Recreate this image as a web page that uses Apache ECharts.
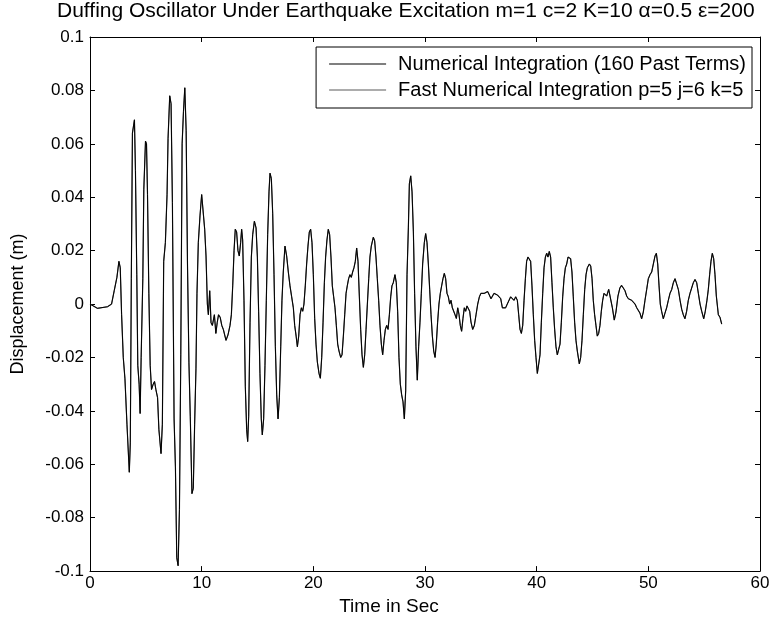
<!DOCTYPE html>
<html>
<head>
<meta charset="utf-8">
<script src="https://cdn.jsdelivr.net/npm/echarts@6/dist/echarts.min.js"></script>
<style>
html,body{margin:0;padding:0;background:#fff;}
#chart{width:773px;height:621px;}
</style>
</head>
<body>
<div id="chart"></div>
<script>
const titleText = 'Duffing Oscillator Under Earthquake Excitation m=1 c=2 K=10 \u03b1=0.5 \u03b5=200';
const seriesNames = ['Numerical Integration (160 Past Terms)', 'Fast Numerical Integration p=5 j=6 k=5'];
const xTicks = [0, 10, 20, 30, 40, 50, 60];
const yTicks = [-0.1, -0.08, -0.06, -0.04, -0.02, 0, 0.02, 0.04, 0.06, 0.08, 0.1];

const timeSec = [
0, 0.66, 1.57, 1.93, 2.17, 2.41, 2.59, 2.71, 2.83, 2.98, 3.13, 3.31, 3.52, 3.61, 3.7, 3.8, 3.98, 4.07, 4.19, 4.28,
4.4, 4.49, 4.58, 4.73, 4.82, 4.97, 5.06, 5.15, 5.27, 5.39, 5.51, 5.66, 5.78, 5.9, 6.05, 6.17, 6.36, 6.48, 6.6, 6.75,
6.9, 6.99, 7.14, 7.26, 7.38, 7.53, 7.65, 7.77, 7.89, 8.01, 8.13, 8.25, 8.37, 8.49, 8.61, 8.73, 8.86, 8.98, 9.13, 9.25,
9.37, 9.49, 9.58, 9.7, 9.85, 10.0, 10.15, 10.27, 10.39, 10.51, 10.6, 10.72, 10.84, 10.96, 11.14, 11.27, 11.39, 11.51, 11.66, 11.8,
11.94, 12.18, 12.36, 12.54, 12.66, 12.78, 12.9, 13.01, 13.13, 13.25, 13.37, 13.49, 13.58, 13.67, 13.79, 13.91, 14.03, 14.12, 14.21, 14.33,
14.45, 14.57, 14.72, 14.87, 14.99, 15.1, 15.22, 15.34, 15.43, 15.55, 15.67, 15.79, 15.91, 16.03, 16.12, 16.24, 16.36, 16.48, 16.6, 16.72,
16.84, 16.96, 17.08, 17.19, 17.31, 17.46, 17.61, 17.76, 17.91, 18.06, 18.21, 18.33, 18.46, 18.57, 18.69, 18.81, 18.93, 19.05, 19.16, 19.28,
19.4, 19.52, 19.64, 19.76, 19.88, 20.0, 20.12, 20.24, 20.36, 20.51, 20.63, 20.75, 20.87, 20.99, 21.1, 21.22, 21.34, 21.46, 21.58, 21.7,
21.82, 21.94, 22.06, 22.18, 22.3, 22.45, 22.57, 22.69, 22.81, 22.93, 23.04, 23.16, 23.28, 23.4, 23.52, 23.64, 23.76, 23.88, 24.0, 24.12,
24.24, 24.36, 24.48, 24.6, 24.72, 24.84, 24.96, 25.07, 25.19, 25.37, 25.49, 25.61, 25.73, 25.85, 25.97, 26.09, 26.21, 26.33, 26.45, 26.57,
26.69, 26.81, 26.93, 27.04, 27.16, 27.31, 27.43, 27.55, 27.67, 27.79, 27.91, 28.03, 28.15, 28.27, 28.39, 28.51, 28.6, 28.72, 28.84, 28.96,
29.07, 29.19, 29.31, 29.43, 29.55, 29.67, 29.79, 29.94, 30.06, 30.18, 30.3, 30.42, 30.54, 30.66, 30.78, 30.9, 31.01, 31.13, 31.25, 31.37,
31.49, 31.61, 31.73, 31.85, 31.97, 32.09, 32.21, 32.33, 32.45, 32.57, 32.69, 32.81, 32.93, 33.05, 33.16, 33.28, 33.4, 33.52, 33.64, 33.76,
33.88, 34.0, 34.12, 34.27, 34.42, 34.57, 34.72, 34.87, 35.01, 35.16, 35.31, 35.46, 35.61, 35.76, 35.91, 36.18, 36.48, 36.78, 36.93, 37.07,
37.22, 37.37, 37.52, 37.67, 37.82, 37.97, 38.12, 38.27, 38.39, 38.51, 38.63, 38.75, 38.87, 38.99, 39.1, 39.22, 39.34, 39.46, 39.58, 39.7,
39.82, 39.94, 40.06, 40.21, 40.3, 40.42, 40.54, 40.66, 40.78, 40.9, 41.01, 41.13, 41.25, 41.37, 41.49, 41.61, 41.73, 41.85, 41.97, 42.09,
42.21, 42.33, 42.45, 42.57, 42.69, 42.81, 42.93, 43.04, 43.16, 43.28, 43.4, 43.52, 43.64, 43.82, 43.94, 44.06, 44.18, 44.3, 44.42, 44.54,
44.72, 44.84, 44.96, 45.07, 45.19, 45.31, 45.43, 45.55, 45.67, 45.79, 45.91, 46.03, 46.15, 46.27, 46.45, 46.6, 46.78, 46.95, 47.1, 47.28,
47.45, 47.6, 47.76, 47.91, 48.06, 48.21, 48.36, 48.51, 48.66, 48.81, 48.96, 49.1, 49.25, 49.4, 49.55, 49.7, 49.85, 50.0, 50.15, 50.3,
50.45, 50.6, 50.72, 50.84, 50.96, 51.07, 51.19, 51.34, 51.49, 51.64, 51.79, 51.94, 52.09, 52.24, 52.39, 52.54, 52.69, 52.84, 52.99, 53.13,
53.28, 53.43, 53.58, 53.73, 53.88, 54.03, 54.18, 54.33, 54.48, 54.63, 54.78, 54.96, 55.1, 55.25, 55.37, 55.49, 55.61, 55.73, 55.85, 55.97,
56.09, 56.27, 56.42, 56.57
];

const numDisp = [
0, -0.0016, -0.001, 0, 0.005, 0.010, 0.016, 0.0136, -0.004, -0.020, -0.028, -0.045, -0.063, -0.052, 0.0095, 0.064, 0.069, 0.050, 0.011, -0.023,
-0.030, -0.041, -0.020, 0.0095, 0.043, 0.061, 0.060, 0.041, 0.004, -0.023, -0.032, -0.030, -0.029, -0.032, -0.035, -0.047, -0.056, -0.045, 0.016, 0.023,
0.041, 0.062, 0.078, 0.075, 0.038, -0.043, -0.061, -0.095, -0.098, -0.077, -0.019, 0.060, 0.072, 0.081, 0.065, 0.015, -0.022, -0.042, -0.071, -0.069,
-0.045, -0.024, 0.004, 0.023, 0.033, 0.041, 0.041, 0.028, 0.018, 0.0, -0.004, 0.005, -0.007, -0.008, -0.004, -0.011, -0.007, -0.004, -0.005, -0.008,
-0.0095, -0.0136, -0.0115, -0.008, -0.004, 0.0068, 0.020, 0.028, 0.027, 0.020, 0.018, 0.023, 0.028, 0.024, 0.0014, -0.031, -0.047, -0.0515, -0.042, -0.007,
0.0176, 0.026, 0.031, 0.0285, 0.0176, -0.0027, -0.026, -0.043, -0.049, -0.043, -0.023, 0.0014, 0.026, 0.042, 0.049, 0.047, 0.034, 0.011, -0.016, -0.034,
-0.043, -0.035, -0.016, 0.0014, 0.012, 0.0217, 0.018, 0.012, 0.0068, 0.0027, -0.0014, -0.008, -0.012, -0.016, -0.012, -0.004, -0.0014, -0.0027, 0, 0.0068,
0.015, 0.0217, 0.027, 0.028, 0.023, 0.011, -0.0054, -0.015, -0.0217, -0.026, -0.0278, -0.020, -0.0068, 0.0081, 0.0176, 0.024, 0.028, 0.026, 0.0176, 0.0068,
0.0027, -0.0014, -0.008, -0.015, -0.0176, -0.020, -0.019, -0.012, -0.004, 0.004, 0.0068, 0.0095, 0.011, 0.010, 0.012, 0.0136, 0.016, 0.021, 0.016, 0.003,
-0.0095, -0.019, -0.0237, -0.019, -0.0095, 0, 0.0095, 0.0176, 0.0217, 0.025, 0.0237, 0.0176, 0.0095, 0.0014, -0.008, -0.015, -0.019, -0.0136, -0.0095, -0.008,
-0.0095, -0.004, 0.0027, 0.0068, 0.008, 0.011, 0.008, -0.0027, -0.020, -0.030, -0.034, -0.0366, -0.043, -0.0325, 0.011, 0.0285, 0.045, 0.048, 0.042, 0.027,
0.004, -0.016, -0.0285, -0.016, -0.0068, 0.004, 0.015, 0.023, 0.0264, 0.023, 0.015, 0.0054, -0.004, -0.012, -0.0176, -0.020, -0.015, -0.0068, 0, 0.004,
0.0068, 0.0095, 0.0115, 0.0095, 0.004, 0.0027, 0, 0.0014, -0.0014, -0.0007, -0.004, -0.0054, -0.0014, -0.004, -0.008, -0.0102, -0.0054, -0.0014, -0.0027, -0.0007,
0, -0.0027, -0.0068, -0.0095, -0.008, -0.004, 0, 0.0027, 0.004, 0.0047, 0.004, 0.004, 0.0047, 0.0034, 0.002, 0.004, 0.0034, 0.002, -0.0014, -0.002,
-0.0014, 0, 0, 0.0027, 0.0027, 0.0014, 0.0027, 0.0014, -0.004, -0.0095, -0.011, -0.008, 0.0014, 0.0095, 0.016, 0.0176, 0.018, 0.016, 0.0068, -0.004,
-0.0136, -0.020, -0.026, -0.026, -0.019, -0.0068, 0.004, 0.0136, 0.0176, 0.019, 0.0176, 0.0197, 0.0176, 0.008, -0.0014, -0.0095, -0.016, -0.019, -0.019, -0.015,
-0.0068, 0.0027, 0.0095, 0.0136, 0.015, 0.0176, 0.018, 0.017, 0.012, 0.0027, -0.0068, -0.0136, -0.0176, -0.0224, -0.020, -0.0136, -0.004, 0.0054, 0.011, 0.0136,
0.015, 0.0142, 0.0095, 0.0014, -0.004, -0.008, -0.012, -0.011, -0.008, -0.0027, 0.0014, 0.004, 0.004, 0.003, 0.0055, 0.005, -0.0014, -0.006, -0.003, 0.003,
0.006, 0.007, 0.006, 0.005, 0.003, 0.002, 0.0014, 0.0014, 0.0007, 0, -0.0014, -0.002, -0.0034, -0.0055, -0.003, 0.0014, 0.0054, 0.0095, 0.011, 0.012,
0.015, 0.018, 0.019, 0.015, 0.0068, 0, -0.0027, -0.0055, -0.0034, -0.0014, 0.0014, 0.004, 0.0054, 0.008, 0.0095, 0.0088, 0.0054, 0.0014, -0.002, -0.004,
-0.0055, -0.0027, 0.0014, 0.004, 0.006, 0.008, 0.0092, 0.008, 0.004, 0, -0.0027, -0.0055, -0.0027, 0.0014, 0.0054, 0.011, 0.016, 0.019, 0.017, 0.011,
0.003, -0.004, -0.005, -0.0075
];

// The fast method is visually indistinguishable from the reference integration in the picture
const fastDisp = numDisp.slice();

const toPairs = (xs, ys) => xs.map((x, i) => [x, ys[i]]);

const chart = echarts.init(document.getElementById('chart'), null, {renderer: 'canvas'});
const FONT = 'Liberation Sans, Arial, Helvetica, sans-serif';
const axisCommon = {
  axisLine: {show: true, onZero: false, lineStyle: {color: '#000', width: 1}},
  axisTick: {show: true, inside: true, length: 5, lineStyle: {color: '#000', width: 1}},
  splitLine: {show: false}
};

chart.setOption({
  animation: false,
  backgroundColor: '#fff',
  title: {
    text: titleText,
    left: 57,
    top: 1,
    padding: 0,
    textStyle: {fontFamily: FONT, fontSize: 21, fontWeight: 'normal', color: '#000'}
  },
  legend: {
    data: seriesNames,
    orient: 'vertical',
    right: 21,
    top: 47,
    backgroundColor: '#fff',
    borderColor: '#000',
    borderWidth: 1,
    padding: [7, 6, 8, 13],
    itemGap: 6,
    itemWidth: 57,
    itemHeight: 1,
    icon: 'rect',
    textStyle: {fontFamily: FONT, fontSize: 20, color: '#000', padding: [0, 0, 0, 7]}
  },
  grid: {left: 90, right: 13, top: 37, bottom: 31, containLabel: false},
  xAxis: [
    Object.assign({
      type: 'value', position: 'bottom', min: xTicks[0], max: xTicks[xTicks.length - 1], interval: 10,
      name: 'Time in Sec', nameLocation: 'middle', nameGap: 19,
      nameTextStyle: {fontFamily: FONT, fontSize: 19, color: '#000', padding: [0, 72, 0, 0]},
      axisLabel: {fontFamily: FONT, fontSize: 17, color: '#000', margin: 4}
    }, axisCommon),
    Object.assign({
      type: 'value', position: 'top', min: xTicks[0], max: xTicks[xTicks.length - 1], interval: 10,
      axisLabel: {show: false}
    }, axisCommon)
  ],
  yAxis: [
    Object.assign({
      type: 'value', position: 'left', min: yTicks[0], max: yTicks[yTicks.length - 1], interval: 0.02,
      name: 'Displacement (m)', nameLocation: 'middle', nameGap: 63,
      nameTextStyle: {fontFamily: FONT, fontSize: 18, color: '#000'},
      axisLabel: {fontFamily: FONT, fontSize: 17, color: '#000', margin: 6}
    }, axisCommon),
    Object.assign({
      type: 'value', position: 'right', min: yTicks[0], max: yTicks[yTicks.length - 1], interval: 0.02,
      axisLabel: {show: false}
    }, axisCommon)
  ],
  series: [
    {
      name: seriesNames[1], type: 'line', xAxisIndex: 0, yAxisIndex: 0,
      data: toPairs(timeSec, fastDisp), symbol: 'none', z: 2,
      itemStyle: {color: '#5a5a5a'},
      lineStyle: {color: '#5a5a5a', width: 1.2}
    },
    {
      name: seriesNames[0], type: 'line', xAxisIndex: 0, yAxisIndex: 0,
      data: toPairs(timeSec, numDisp), symbol: 'none', z: 3,
      itemStyle: {color: '#000'},
      lineStyle: {color: '#000', width: 1}
    }
  ]
});
</script>
</body>
</html>
